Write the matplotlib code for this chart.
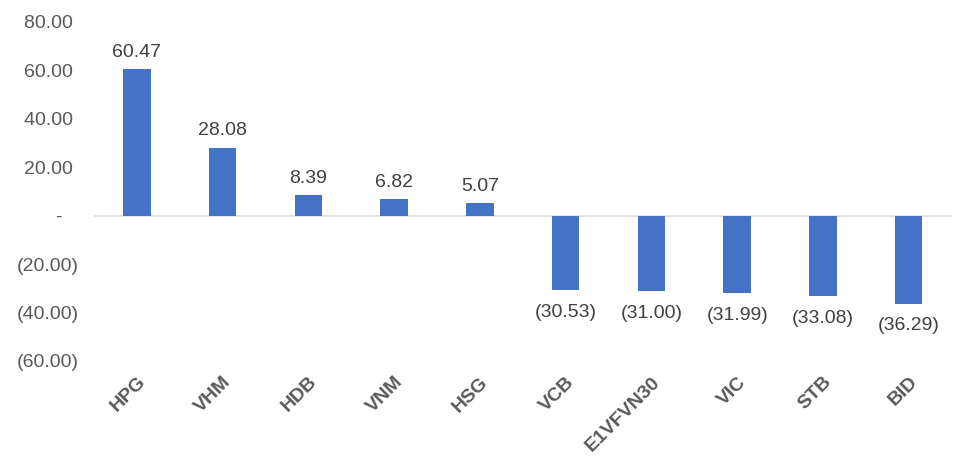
import matplotlib
matplotlib.use("Agg")
import matplotlib.pyplot as plt

plt.rcParams.update({
    "font.family": ["Liberation Sans", "DejaVu Sans"],
    "font.size": 14,
})

MA = ["HPG", "VHM", "HDB", "VNM", "HSG", "VCB", "E1VFVN30", "VIC", "STB", "BID"]
GIA_TRI = [60.47, 28.08, 8.39, 6.82, 5.07, -30.53, -31.00, -31.99, -33.08, -36.29]
MOC_Y = [80, 60, 40, 20, 0, -20, -40, -60]

XANH = "#4472c4"
CHU = "#404040"


def dinh_dang(v):
    # kieu ke toan cua Excel: am trong ngoac, 0 thanh "-"
    if v == 0:
        return "-   "
    if v < 0:
        return f"({abs(v):.2f})"
    return f"{v:.2f} "


fig = plt.figure(figsize=(9.75, 4.67), dpi=100)
ax = fig.add_axes([0.0964, 0.227, 0.8796, 0.726])

x = range(len(MA))
ax.bar(x, GIA_TRI, width=0.32, color=XANH, zorder=2)
ax.axhline(0, color="#d9d9d9", linewidth=1.2, zorder=1)

for i, v in enumerate(GIA_TRI):
    if v >= 0:
        ax.annotate(dinh_dang(v).strip(), (i, v), xytext=(0, 6),
                    textcoords="offset points", ha="center", va="bottom",
                    fontsize=14, color=CHU)
    else:
        ax.annotate(dinh_dang(v), (i, v), xytext=(0, -10),
                    textcoords="offset points", ha="center", va="top",
                    fontsize=14, color=CHU)

ax.set_xlim(-0.5, len(MA) - 0.5)
ax.set_ylim(-60, 80)
ax.set_yticks(MOC_Y)
ax.set_yticklabels([dinh_dang(v) for v in MOC_Y], color="#595959", fontsize=14)
ax.set_xticks(list(x))
ax.set_xticklabels(MA, rotation=45, ha="right", rotation_mode="anchor",
                   fontweight="bold", color="#595959", fontsize=14)
ax.tick_params(axis="both", length=0)
ax.tick_params(axis="y", pad=11)
ax.tick_params(axis="x", pad=9)
for s in ax.spines.values():
    s.set_visible(False)

fig.savefig("out.png", dpi=100)
